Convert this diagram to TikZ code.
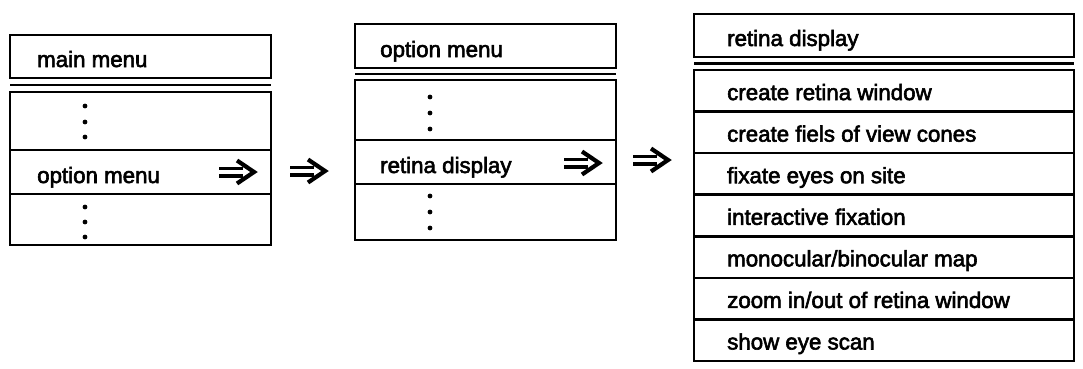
\documentclass[tikz,border=0pt]{standalone}
\usepackage{fontspec}
\setmainfont{Liberation Sans}
\font\menufont="Liberation Sans:embolden=2.6" at 22.3pt
\tikzset{
  frame/.style={draw=black,line width=2.7pt},
  itemtext/.style={anchor=base west,inner sep=0pt,font=\menufont},
  menudot/.style={circle,fill=black,inner sep=0pt,minimum size=4.8pt},
  menuarrow/.pic={
    \draw[line width=3.4pt] (0,-3.8)--(24,-3.8) (0,3.8)--(24,3.8);
    \draw[line width=4.2pt,line join=miter] (18,-11.5)--(35,0)--(18,11.5);
  }
}
\begin{document}
\begin{tikzpicture}[x=1pt,y=-1pt]
  \useasboundingbox (0,0) rectangle (1083,368);
  % main menu
  \draw[frame] (10,35) rectangle (271,78);
  \draw[frame] (10,85)--(271,85);
  \draw[frame] (10,92) rectangle (271,245);
  \draw[frame] (10,150)--(271,150) (10,194)--(271,194);
  \node[itemtext] (mainTitle) at (37,67) {main menu};
  \node[itemtext] (mainOption) at (37,183) {option menu};
  \foreach \y in {106,122,137,207,222,237} \node[menudot] at (85,\y) {};
  \pic at (219,172) {menuarrow};
  \pic at (290,171) {menuarrow};
  % option menu
  \draw[frame] (355,24) rectangle (616,68);
  \draw[frame] (355,74)--(616,74);
  \draw[frame] (355,80) rectangle (616,240);
  \draw[frame] (355,140)--(616,140) (355,184)--(616,184);
  \node[itemtext] (optTitle) at (380,57) {option menu};
  \node[itemtext] (optRetina) at (380,173) {retina display};
  \foreach \y in {97,113,129,196,212,228} \node[menudot] at (430,\y) {};
  \pic at (564,163) {menuarrow};
  \pic at (633,160) {menuarrow};
  % retina display
  \draw[frame] (694,14) rectangle (1074,57);
  \draw[frame] (694,63.5)--(1074,63.5);
  \draw[frame] (694,70) rectangle (1074,361);
  \foreach \i in {1,...,6} \draw[frame] (694,70+41.57*\i)--(1074,70+41.57*\i);
  \node[itemtext] (retTitle) at (727,46) {retina display};
  \foreach \t [count=\i] in {create retina window,create fiels of view cones,
      fixate eyes on site,interactive fixation,monocular/binocular map,
      zoom in/out of retina window,show eye scan}
    \node[itemtext] (retItem\i) at (727,70+41.57*\i-11.5) {\t};
\end{tikzpicture}
\end{document}
